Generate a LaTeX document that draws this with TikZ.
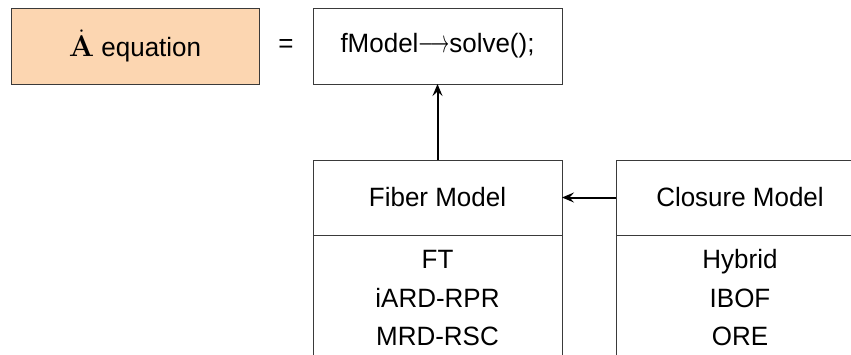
\documentclass[tikz,border=0pt]{standalone}
\usepackage[no-math]{fontspec}
\usepackage{graphicx}
\setmainfont[FakeStretch=0.98]{Liberation Sans}
\usetikzlibrary{arrows.meta}
\definecolor{peach}{HTML}{FCD6B1}
\definecolor{edge}{HTML}{3A3A3A}
\tikzset{
  box/.style={draw=edge, line width=1pt, minimum width=249pt, inner sep=0pt, outer sep=0pt},
  headbox/.style={box, minimum height=75pt},
  bodybox/.style={box, minimum height=130pt, anchor=north},
  item/.style={anchor=base, inner sep=0pt},
  conn/.style={draw=black, line width=2pt, -{Stealth[length=12pt,width=10pt,inset=4.5pt]}},
}
\begin{document}
\begin{tikzpicture}[x=1pt, y=-1pt, font=\fontsize{26.5}{30}\selectfont]
\useasboundingbox (0,0) rectangle (851,354);
\clip (0,0) rectangle (851,354);
\node[box, fill=peach, minimum height=76pt, minimum width=248pt] (eq) at (135,46)
  {\scalebox{1.2}{$\dot{\mathbf{A}}$}\ equation};
\node[inner sep=0pt] (eqsign) at (286,46) {=};
\node[box, minimum height=76pt] (fm) at (437.5,46)
  {fModel\scalebox{0.77}[1.3]{$\longrightarrow$}solve();};
\node[headbox] (fiberhead) at (437.5,197.5) {Fiber Model};
\node[bodybox] (fiberbody) at (437.5,235) {};
\node[item] (fiber1) at (437.5,268.5) {FT};
\node[item] (fiber2) at (437.5,307) {iARD-RPR};
\node[item] (fiber3) at (437.5,345.5) {MRD-RSC};
\node[headbox, minimum width=248pt] (closhead) at (740,197.5) {Closure Model};
\node[bodybox, minimum width=248pt] (closbody) at (740,235) {};
\node[item] (clos1) at (740,268.5) {Hybrid};
\node[item] (clos2) at (740,307) {IBOF};
\node[item] (clos3) at (740,345.5) {ORE};
\draw[conn] (fiberhead.north) -- (fm.south);
\draw[conn] (closhead.west) -- (fiberhead.east);
\end{tikzpicture}
\end{document}
